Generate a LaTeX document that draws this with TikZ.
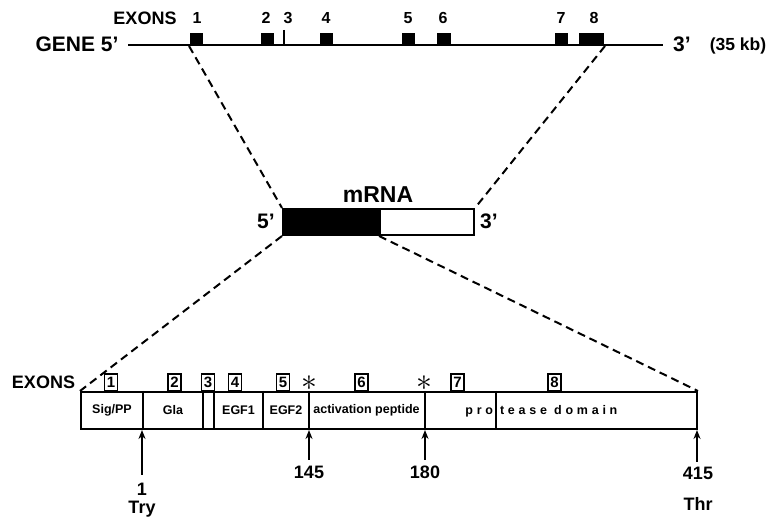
\documentclass[tikz,border=0pt]{standalone}
\usepackage{fontspec}
\setmainfont{Liberation Sans}
\usepackage{tikz}
\usetikzlibrary{calc,arrows.meta}

\begin{document}
\begin{tikzpicture}[x=1pt,y=-1pt,
  every node/.style={font=\bfseries,inner sep=0pt},
  every path/.style={line width=2pt},
  exon/.style={fill=black,minimum height=12pt},
  numbox/.style={draw,line width=1.6pt,minimum width=13pt,minimum height=17pt,
    font=\fontsize{15}{15}\selectfont\bfseries},
  dom/.style={font=\fontsize{12.5}{13}\selectfont\bfseries},
  big/.style={font=\fontsize{21}{22}\selectfont\bfseries},
  sitelabel/.style={font=\fontsize{18}{18}\selectfont\bfseries},
  star/.style={font=\Large,scale=2.2},
  zoomline/.style={dash pattern=on 8pt off 5pt},
  >={Stealth[length=9pt,width=7pt]}
]
\useasboundingbox (0,0) rectangle (772,521);
% gene
\node[big] (gene) at (77,44) {GENE 5’};
\node[big] (gene3) at (682,44) {3’};
\node[font=\fontsize{17.5}{18}\selectfont\bfseries] (size) at (738,46) {(35 kb)};
\node[font=\fontsize{18}{18}\selectfont\bfseries] (exons) at (145,18) {EXONS};
\coordinate (g5) at (128,45);
\coordinate (g3) at (663,45);
\draw[line width=2.2pt] (g5) -- (g3);
\node[exon,minimum width=13pt] (e1) at (196.5,39) {};
\node[exon,minimum width=13pt] (e2) at (267.5,39) {};
\draw (284,30) -- (284,45);
\node[exon,minimum width=13pt] (e4) at (326.5,39) {};
\node[exon,minimum width=13pt] (e5) at (408.5,39) {};
\node[exon,minimum width=14pt] (e6) at (444,39) {};
\node[exon,minimum width=13pt] (e7) at (561.5,39) {};
\node[exon,minimum width=25pt] (e8) at (591.5,39) {};
\foreach \n/\x in {1/197,2/266,3/288,4/326,5/408,6/443,7/561,8/594}
  \node[font=\fontsize{16}{16}\selectfont\bfseries] (n\n) at (\x,18) {\n};

% mRNA
\node[font=\fontsize{23}{23}\selectfont\bfseries] (mlabel) at (378,195) {mRNA};
\node[draw,fill=black,minimum width=95pt,minimum height=26pt] (mcode) at (330.5,222) {};
\node[draw,minimum width=94pt,minimum height=26pt,anchor=west] (mtail) at (mcode.east) {};
\node[font=\fontsize{21}{21}\selectfont\bfseries] (m5) at (266,221) {5’};
\node[font=\fontsize{21}{21}\selectfont\bfseries] (m3) at (489,221) {3’};
\draw[zoomline] (e1.south west) -- (mcode.north west);
\draw[zoomline] (e8.south east) -- (mtail.north east);

% protein
\node[draw,minimum width=616pt,minimum height=37pt] (prot) at (389,410.5) {};
\draw[zoomline] (mcode.south west) -- (prot.north west);
\draw[zoomline] (mcode.south east) -- (prot.north east);
\foreach \x in {143,203,214,263,309,425,496}
  \draw (\x,392 |- prot.north) -- (\x,429 |- prot.south);
\node[dom] (sig) at (112,410) {Sig/PP};
\node[dom] (gla) at (173,410) {Gla};
\node[dom] (egfa) at (238.5,410) {EGF1};
\node[dom] (egfb) at (286,410) {EGF2};
\node[dom] (act) at (366.5,410) {activation peptide};
\node[dom,anchor=base east] (pro) at (494,414.5) {\addfontfeature{LetterSpace=30}pro};
\node[dom,anchor=base west] (tease) at (499,414.5) {\addfontfeature{LetterSpace=30}tease domain};

\node[font=\fontsize{18}{18}\selectfont\bfseries] (pexons) at (43.5,382) {EXONS};
\foreach \n/\x in {1/111,2/174.5,3/208,4/235,5/283,6/361.5,7/457.5,8/554.5}
  \node[numbox,anchor=south] (b\n) at (\x,392) {\n};
\node[star] (s1) at (309,383) {$\ast$};
\node[star] (s2) at (424,383) {$\ast$};

% cleavage sites
\coordinate (c1) at (142,475);
\coordinate (c145) at (309,460);
\coordinate (c180) at (425,460);
\coordinate (c415) at (697,462);
\draw[->] (c1) -- (c1 |- prot.south);
\draw[->] (c145) -- (c145 |- prot.south);
\draw[->] (c180) -- (c180 |- prot.south);
\draw[->] (c415) -- (c415 |- prot.south);
\node[sitelabel] (p1) at (142,489) {1};
\node[sitelabel] (try) at (142,509) {Try};
\node[sitelabel] (p145) at (309,472) {145};
\node[sitelabel] (p180) at (425,472) {180};
\node[sitelabel] (p415) at (698,473) {415};
\node[sitelabel] (thr) at (698,504) {Thr};
\end{tikzpicture}
\end{document}
